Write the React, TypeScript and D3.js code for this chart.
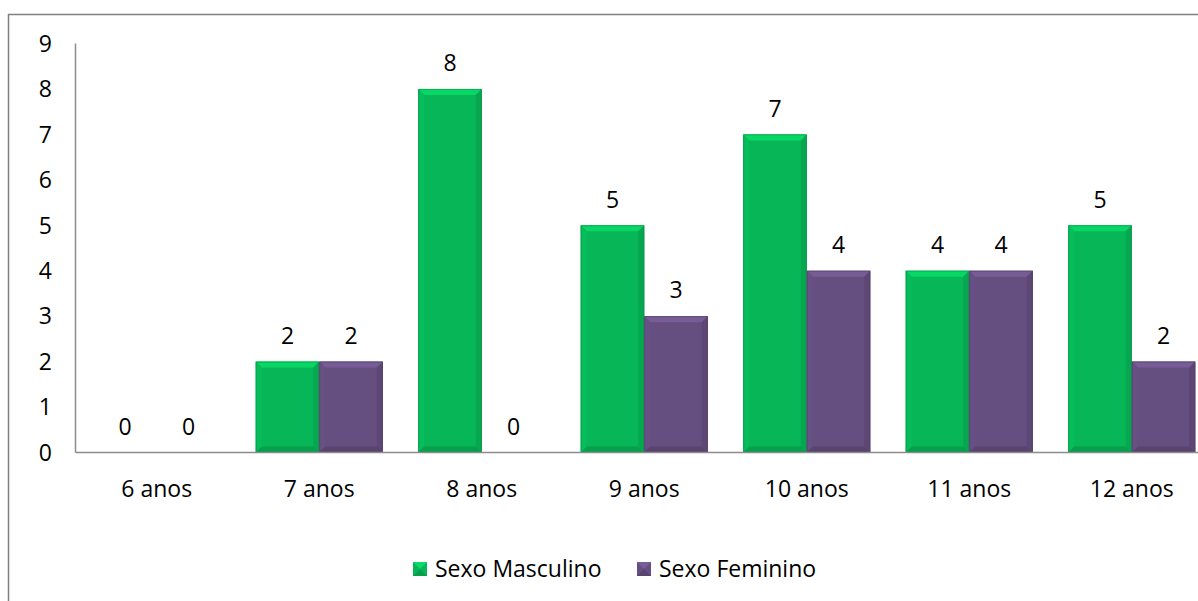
import React, { useEffect, useRef } from 'react';
import * as d3 from 'd3';

// chart data
const categories = ['6 anos', '7 anos', '8 anos', '9 anos', '10 anos', '11 anos', '12 anos'];
const seriesNames = ['Sexo Masculino', 'Sexo Feminino'];
const masculino = [0, 2, 8, 5, 7, 4, 5];
const feminino = [0, 2, 0, 3, 4, 4, 2];
const yTicks = [0, 1, 2, 3, 4, 5, 6, 7, 8, 9];

const colors = ['#07B757', '#654E80'];
const FONT = '"Open Sans", "Noto Sans", sans-serif';
const FS = 23;

const App = () => {
  const svgRef = useRef<SVGSVGElement>(null);

  useEffect(() => {
    const svg = d3.select(svgRef.current);
    svg.selectAll('*').remove();

    const W = 1198;
    const H = 601;
    const left = 75.5;
    const right = 1213;
    const top = 43.5;
    const bottom = 452.5;

    // outer frame (clipped on the right and bottom like the original)
    svg.append('rect')
      .attr('x', 8.5).attr('y', 14.5)
      .attr('width', W + 20).attr('height', H + 20)
      .attr('fill', '#fff')
      .attr('stroke', '#7f7f7f')
      .attr('stroke-width', 1.5);

    const x = d3.scaleBand().domain(categories).range([left, right])
      .paddingInner(0.218).paddingOuter(0.109);
    const xs = d3.scaleBand().domain(seriesNames).range([0, x.bandwidth()]);
    const y = d3.scaleLinear().domain([0, 9]).range([bottom, top]);

    // y labels
    svg.append('g')
      .selectAll('text')
      .data(yTicks)
      .join('text')
      .attr('x', 52)
      .attr('y', d => y(d))
      .attr('dy', '0.36em')
      .attr('text-anchor', 'end')
      .style('font', `${FS}px ${FONT}`)
      .attr('fill', '#000')
      .text(d => d);

    const series = [masculino, feminino];

    const shade = (c: string, k: number) => {
      const col = d3.color(c)!;
      return k > 0 ? col.brighter(k).formatHex() : col.darker(-k).formatHex();
    };

    // bars with a bevel look
    const bars = svg.append('g');
    series.forEach((vals, si) => {
      vals.forEach((v, i) => {
        if (v <= 0) return;
        const bx = (x(categories[i]) as number) + (xs(seriesNames[si]) as number);
        const bw = xs.bandwidth();
        const by = y(v);
        const bh = y(0) - by;
        const b = 6;
        const g = bars.append('g');
        const c = colors[si];
        g.append('rect').attr('x', bx).attr('y', by).attr('width', bw).attr('height', bh)
          .attr('fill', c);
        // top bevel
        g.append('polygon')
          .attr('points', `${bx},${by} ${bx + bw},${by} ${bx + bw - b},${by + b} ${bx + b},${by + b}`)
          .attr('fill', shade(c, 0.45));
        // left bevel
        g.append('polygon')
          .attr('points', `${bx},${by} ${bx + b},${by + b} ${bx + b},${by + bh - b} ${bx},${by + bh}`)
          .attr('fill', shade(c, 0.08));
        // right bevel
        g.append('polygon')
          .attr('points', `${bx + bw},${by} ${bx + bw},${by + bh} ${bx + bw - b},${by + bh - b} ${bx + bw - b},${by + b}`)
          .attr('fill', shade(c, -0.25));
        // bottom bevel
        g.append('polygon')
          .attr('points', `${bx},${by + bh} ${bx + bw},${by + bh} ${bx + bw - b},${by + bh - b} ${bx + b},${by + bh - b}`)
          .attr('fill', shade(c, -0.4));
        g.append('rect').attr('x', bx + 0.5).attr('y', by + 0.5).attr('width', bw - 1).attr('height', bh - 1)
          .attr('fill', 'none').attr('stroke', shade(c, -0.8)).attr('stroke-opacity', 0.5);
      });
    });

    // value labels
    series.forEach((vals, si) => {
      svg.append('g')
        .selectAll('text')
        .data(vals)
        .join('text')
        .attr('x', (d, i) => (x(categories[i]) as number) + (xs(seriesNames[si]) as number) + xs.bandwidth() / 2)
        .attr('y', d => y(d) - 26)
        .attr('dy', '0.36em')
        .attr('text-anchor', 'middle')
        .style('font', `${FS}px ${FONT}`)
        .attr('fill', '#000')
        .text(d => d);
    });

    // axes lines
    svg.append('line')
      .attr('x1', left).attr('x2', left).attr('y1', top).attr('y2', bottom)
      .attr('stroke', '#8c8c8c').attr('stroke-width', 1.5);
    svg.append('line')
      .attr('x1', left).attr('x2', right).attr('y1', bottom).attr('y2', bottom)
      .attr('stroke', '#8c8c8c').attr('stroke-width', 1.5);

    // category labels
    svg.append('g')
      .selectAll('text')
      .data(categories)
      .join('text')
      .attr('x', d => (x(d) as number) + x.bandwidth() / 2)
      .attr('y', 489)
      .attr('dy', '0.36em')
      .attr('text-anchor', 'middle')
      .style('font', `${FS}px ${FONT}`)
      .attr('fill', '#000')
      .text(d => d);

    // legend
    const legendX = [413, 637];
    seriesNames.forEach((name, si) => {
      const lg = svg.append('g').attr('transform', `translate(${legendX[si]},562)`);
      const c = colors[si];
      const s = 14;
      lg.append('rect').attr('width', s).attr('height', s).attr('fill', c);
      lg.append('polygon').attr('points', `0,0 ${s},0 ${s / 2},${s / 2}`).attr('fill', shade(c, 0.5));
      lg.append('polygon').attr('points', `0,${s} ${s},${s} ${s / 2},${s / 2}`).attr('fill', shade(c, -0.4));
      lg.append('text')
        .attr('x', 22)
        .attr('y', s / 2)
        .attr('dy', '0.36em')
        .style('font', `${FS}px ${FONT}`)
        .attr('fill', '#000')
        .text(name);
    });
  }, []);

  return (
    <svg
      ref={svgRef}
      width={1198}
      height={601}
      style={{ position: 'fixed', left: 0, top: 0, background: '#fff' }}
    />
  );
};

export default App;
